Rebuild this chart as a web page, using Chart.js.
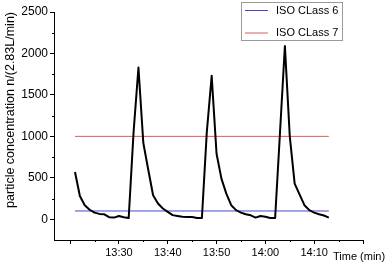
<!DOCTYPE html>
<html>
<head>
<meta charset="utf-8">
<script src="https://cdn.jsdelivr.net/npm/chart.js@4.4.1/dist/chart.umd.min.js"></script>
<style>
  html, body { margin: 0; padding: 0; background: #fff; }
  #wrap { width: 390px; height: 266px; }
</style>
</head>
<body>
<div id="wrap"><canvas id="chart" width="390" height="266"></canvas></div>
<script>
// minutes after 13:00
const minutes = [21, 22, 23, 24, 25, 26, 27, 28, 29, 30, 31, 32, 33, 34, 35, 36, 37, 38, 39, 40,
    41, 42, 43, 44, 45, 46, 47, 48, 49, 50, 51, 52, 53, 54, 55, 56, 57, 58, 59, 60,
    61, 62, 63, 64, 65, 66, 67, 68, 69, 70, 71, 72, 73];
const concentration = [570, 280, 170, 115, 80, 65, 60, 25, 20, 40, 25, 15, 1050, 1830, 920, 600, 290, 190, 130, 90,
    50, 40, 30, 28, 28, 16, 15, 1050, 1730, 790, 490, 310, 170, 110, 80, 60, 48, 20, 40, 30,
    16, 15, 1050, 2090, 1000, 430, 300, 170, 110, 80, 60, 45, 20];
const limitNames = ['ISO CLass 6', 'ISO CLass 7'];
const limitValues = [100, 1000];
const limitColors = ['#4646d2', '#e05a5a'];
const xTicks = [20, 30, 40, 50, 60, 70, 80];
const xMinor = [25, 35, 45, 55, 65, 75];
const yTicks = [0, 500, 1000, 1500, 2000, 2500];
const yMinor = [250, 750, 1250, 1750, 2250];

const FONT = 'Arial, "Liberation Sans", sans-serif';

function toClock(m) {
    const h = 13 + Math.floor(m / 60);
    const mm = m % 60;
    return h + ':' + (mm < 10 ? '0' + mm : mm);
}

const datasets = [{
    label: 'data',
    data: minutes.map((m, i) => ({ x: m, y: concentration[i] })),
    borderColor: '#000',
    borderWidth: 2,
    pointRadius: 0,
    tension: 0,
    borderJoinStyle: 'round'
}];
limitValues.forEach((v, i) => {
    datasets.push({
        label: limitNames[i],
        data: [{ x: minutes[0], y: v }, { x: minutes[minutes.length - 1], y: v }],
        borderColor: limitColors[i],
        borderWidth: 1,
        pointRadius: 0
    });
});

// minor ticks, legend box and x-axis title
const extras = {
    id: 'extras',
    afterDraw(chart) {
        const ctx = chart.ctx;
        const xs = chart.scales.x, ys = chart.scales.y;
        ctx.save();
        ctx.strokeStyle = '#000';
        ctx.lineWidth = 1;
        ctx.beginPath();
        xMinor.forEach(v => {
            const px = Math.round(xs.getPixelForValue(v)) + 0.5;
            ctx.moveTo(px, xs.top);
            ctx.lineTo(px, xs.top + 2);
        });
        yMinor.forEach(v => {
            const py = Math.round(ys.getPixelForValue(v)) + 0.5;
            ctx.moveTo(ys.right, py);
            ctx.lineTo(ys.right - 2, py);
        });
        ctx.stroke();

        ctx.fillStyle = '#000';
        ctx.font = '11px ' + FONT;
        ctx.textBaseline = 'middle';
        ctx.textAlign = 'left';
        ctx.fillText('Time (min)', xs.right - 30, 257);

        // legend
        const bx = 241.5, by = 2.5, bw = 101, bh = 38;
        ctx.fillStyle = '#fff';
        ctx.fillRect(bx, by, bw, bh);
        ctx.strokeStyle = '#9a9a9a';
        ctx.strokeRect(bx, by, bw, bh);
        chart.data.datasets.slice(1).forEach((ds, i) => {
            const ly = 10.5 + i * 22.5;
            ctx.strokeStyle = ds.borderColor;
            ctx.beginPath();
            ctx.moveTo(245, ly);
            ctx.lineTo(268, ly);
            ctx.stroke();
            ctx.fillStyle = '#000';
            ctx.fillText(ds.label, 276, ly);
        });
        ctx.restore();
    }
};

new Chart(document.getElementById('chart').getContext('2d'), {
    type: 'line',
    data: { datasets: datasets },
    options: {
        responsive: false,
        animation: false,
        layout: { padding: { top: 12, right: 27, left: 0, bottom: 0 } },
        plugins: {
            legend: { display: false },
            tooltip: { enabled: false }
        },
        scales: {
            x: {
                type: 'linear',
                min: 16.7,
                max: 80,
                afterBuildTicks: s => { s.ticks = xTicks.map(v => ({ value: v })); },
                afterFit: s => { s.height = 26; },
                grid: { drawOnChartArea: false, tickLength: 4, color: '#000' },
                border: { color: '#000', width: 1 },
                ticks: {
                    color: '#000',
                    font: { family: FONT, size: 11 },
                    padding: 2,
                    maxRotation: 0,
                    callback: v => (v === 20 || v === 80) ? '' : toClock(v)
                }
            },
            y: {
                min: -250,
                max: 2500,
                afterBuildTicks: s => { s.ticks = yTicks.map(v => ({ value: v })); },
                afterFit: s => { s.width = 54; },
                grid: { drawOnChartArea: false, tickLength: 4, color: '#000' },
                border: { color: '#000', width: 1 },
                ticks: {
                    color: '#000',
                    font: { family: FONT, size: 12 },
                    padding: 2,
                    callback: v => String(v)
                }
            ,
                title: {
                    display: true,
                    text: 'particle concentration n/(2.83L/min)',
                    color: '#000',
                    align: 'end',
                    font: { family: FONT, size: 12.5 },
                    padding: { top: 3, bottom: 0 }
                }
            }
        }
    },
    plugins: [extras]
});
</script>
</body>
</html>
